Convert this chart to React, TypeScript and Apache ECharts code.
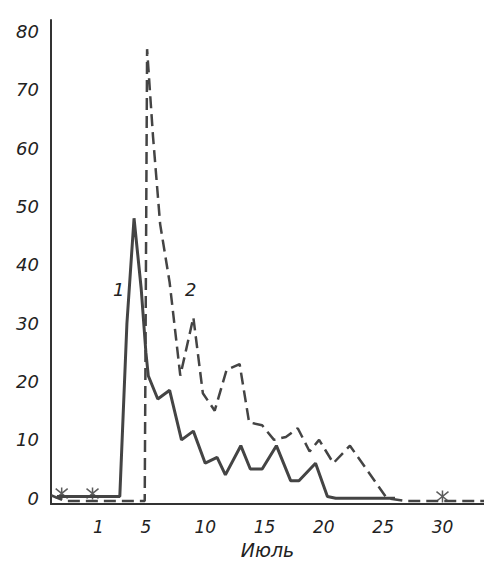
import { useEffect, useRef } from 'react'
import * as echarts from 'echarts'

const yTicks = [0, 10, 20, 30, 40, 50, 60, 70, 80]
const xTicks = [1, 5, 10, 15, 20, 25, 30]

// series 1 (solid) : [day, value]
const series1: [number, number][] = [
  [-2.5, 0.3], [0, 0.3], [2.3, 0.3], [2.8, 0.3], [3.4, 30], [4, 48], [4.6, 36], [5, 25], [5.2, 21],
  [6, 17], [7, 18.5], [8, 10], [9, 11.5], [10, 6], [11, 7], [11.7, 4], [13, 9], [13.8, 5],
  [14.8, 5], [16, 9], [17.2, 3], [17.9, 3], [19.3, 6], [20.3, 0.3], [21, 0], [26, 0]
]
// series 2 (dashed)
const series2: [number, number][] = [
  [-3, 0.5], [-1.8, -0.5], [0, -0.5], [1, -0.5], [4.9, -0.5], [5.1, 77], [5.6, 62], [6.2, 47],
  [7, 37], [7.9, 21], [9, 31], [9.8, 18], [10.8, 15], [11.8, 22], [12.9, 23], [13.7, 13],
  [14.8, 12.5], [15.8, 10], [16.8, 10.5], [17.8, 12], [18.8, 8], [19.6, 10], [20.8, 6],
  [22.2, 9], [25.3, 0], [27, -0.5], [33.5, -0.5]
]
const markers: [number, number][] = [[-2.1, 0.8], [0.5, 0.8], [30, 0.3]]

export default function App() {
  const ref = useRef<HTMLDivElement | null>(null)

  useEffect(() => {
    if (!ref.current) return
    const chart = echarts.init(ref.current, undefined, { renderer: 'svg' })
    const font = { fontFamily: 'DejaVu Sans', fontStyle: 'italic' as const, color: '#222' }
    chart.setOption({
      animation: false,
      backgroundColor: '#fff',
      grid: { left: 43, right: 0, top: 12, bottom: 52 },
      xAxis: {
        type: 'value', min: -3, max: 33.5,
        axisLine: { onZero: false, lineStyle: { color: '#333', width: 2 } },
        axisTick: { show: false },
        splitLine: { show: false },
        axisLabel: {
          ...font, fontSize: 17, margin: 14,
          customValues: xTicks
        },
        name: 'Июль', nameLocation: 'middle', nameGap: 36,
        nameTextStyle: { ...font, fontSize: 19 }
      },
      yAxis: {
        type: 'value', min: -1, max: 82,
        axisLine: { show: true, onZero: false, lineStyle: { color: '#333', width: 2 } },
        axisTick: { show: false },
        splitLine: { show: false },
        axisLabel: { ...font, fontSize: 18, customValues: yTicks, margin: 12 }
      },
      graphic: [
        { type: 'text', left: 105, top: 272, style: { text: '1', font: 'italic 18px DejaVu Sans', fill: '#222' } },
        { type: 'text', left: 177, top: 272, style: { text: '2', font: 'italic 18px DejaVu Sans', fill: '#222' } }
      ],
      series: [
        {
          type: 'line', data: series1, showSymbol: false,
          lineStyle: { color: '#444', width: 3 }
        },
        {
          type: 'line', data: series2, showSymbol: false,
          lineStyle: { color: '#444', width: 2.5, type: [12, 6] }
        },
        {
          type: 'scatter', data: markers, symbol: 'path://M0,-5L0,5M-5,-4L5,4M-5,4L5,-4', symbolSize: 12,
          itemStyle: { color: 'none', borderColor: '#333', borderWidth: 1.5 }
        }
      ]
    })
    return () => chart.dispose()
  }, [])

  return <div ref={ref} style={{ width: 476, height: 556 }} />
}
